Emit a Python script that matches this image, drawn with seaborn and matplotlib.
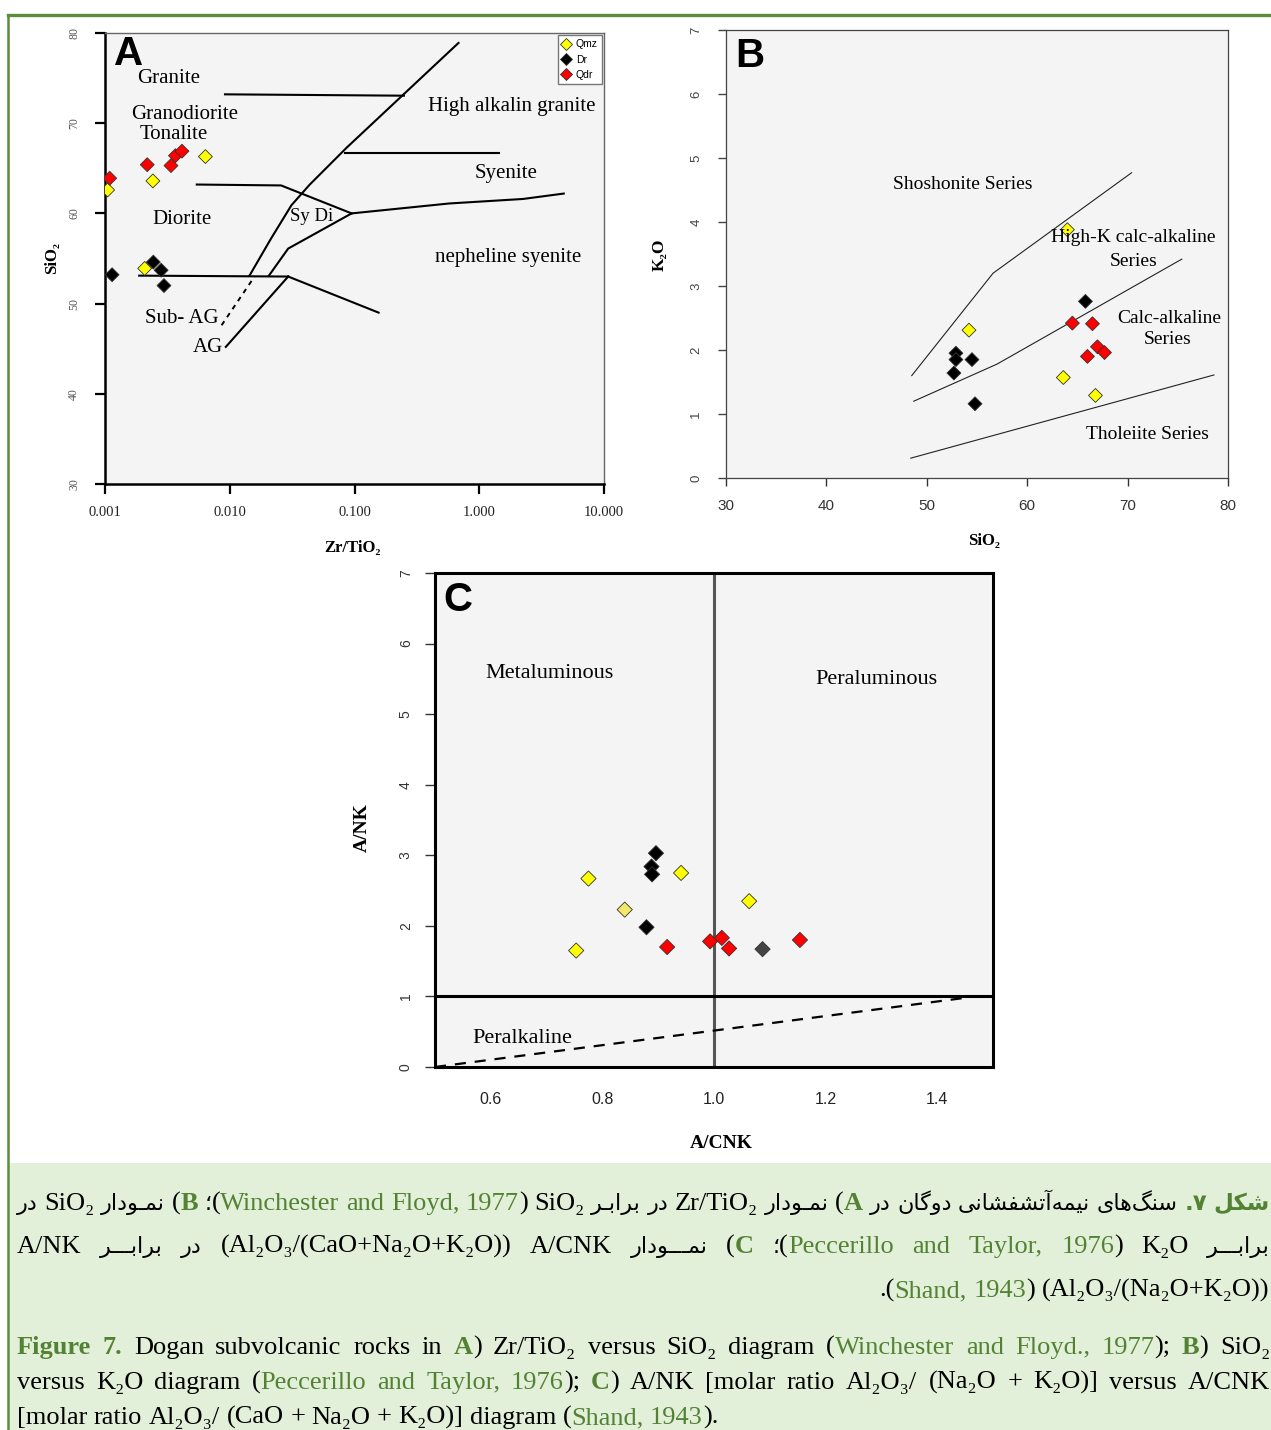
import numpy as np
import pandas as pd
import matplotlib
matplotlib.use("Agg")
import matplotlib.pyplot as plt
import seaborn as sns
from matplotlib.lines import Line2D
from matplotlib.patches import Rectangle
from matplotlib.ticker import NullLocator

# ---------------- data ----------------
groups = ["Qmz", "Dr", "Qdr"]

# Panel A: Zr/TiO2 vs SiO2
A_qmz_zr = [0.00105, 0.00208, 0.00242, 0.00638]
A_qmz_si = [62.6, 53.9, 63.6, 66.3]
A_dr_zr = [0.00114, 0.00244, 0.00282, 0.00297]
A_dr_si = [53.2, 54.6, 53.7, 52.0]
A_qdr_zr = [0.00109, 0.00218, 0.00338, 0.00367, 0.00414]
A_qdr_si = [63.9, 65.4, 65.3, 66.4, 66.9]

# Panel B: SiO2 vs K2O
B_qmz_si = [64.0, 54.2, 63.6, 66.8]
B_qmz_k = [3.88, 2.31, 1.57, 1.29]
B_dr_si = [52.9, 52.9, 54.5, 52.7, 54.8, 65.8]
B_dr_k = [1.95, 1.85, 1.85, 1.64, 1.16, 2.76]
B_qdr_si = [64.5, 66.5, 66.0, 67.0, 67.7]
B_qdr_k = [2.42, 2.41, 1.90, 2.05, 1.96]

# Panel C: A/CNK vs A/NK
C_qmz_acnk = [0.775, 0.753, 0.941, 1.063]
C_qmz_ank = [2.67, 1.65, 2.75, 2.35]
C_qmzl_acnk = [0.840]
C_qmzl_ank = [2.23]
C_dr_acnk = [0.896, 0.888, 0.889, 0.879]
C_dr_ank = [3.03, 2.84, 2.73, 1.98]
C_drg_acnk = [1.087]
C_drg_ank = [1.67]
C_qdr_acnk = [0.916, 0.993, 1.014, 1.027, 1.154]
C_qdr_ank = [1.70, 1.78, 1.83, 1.68, 1.80]

# Field boundaries
A_lines_x = [[0.00916, 0.249], [0.0144, 0.0214, 0.0312, 0.0438, 0.0867, 0.682],
             [0.0834, 1.44], [0.00544, 0.0258, 0.0948], [0.0948, 0.574, 2.24, 4.76],
             [0.0948, 0.0294, 0.0206], [0.00188, 0.0294], [0.0294, 0.156], [0.0093, 0.0294]]
A_lines_y = [[73.2, 73.05], [53.1, 57.2, 60.9, 63.2, 67.3, 78.9],
             [66.7, 66.7], [63.2, 63.1, 60.0], [60.0, 61.1, 61.6, 62.2],
             [60.0, 56.1, 53.1], [53.1, 53.0], [53.0, 49.0], [45.2, 53.0]]
A_dash_x = [0.0086, 0.0158]
A_dash_y = [47.6, 53.0]
A_labels = ["Granite", "Granodiorite", "Tonalite", "Diorite", "Sy Di", "High alkalin granite",
            "Syenite", "nepheline syenite", "Sub- AG", "AG"]
A_label_x = [0.00323, 0.00437, 0.00356, 0.00414, 0.0455, 1.81, 1.63, 1.69, 0.00414, 0.00673]
A_label_y = [75.0, 71.0, 68.8, 59.3, 59.7, 71.9, 64.4, 55.1, 48.3, 45.1]

B_lines_x = [[48.5, 56.6, 70.4], [48.7, 57.0, 75.4], [48.4, 78.6]]
B_lines_y = [[1.60, 3.20, 4.77], [1.20, 1.78, 3.42], [0.31, 1.61]]
B_labels = ["Shoshonite Series", "High-K calc-alkaline", "Series", "Calc-alkaline", "Series",
            "Tholeiite Series"]
B_label_x = [53.6, 70.6, 70.6, 74.15, 73.95, 72.0]
B_label_y = [4.59, 3.76, 3.38, 2.49, 2.16, 0.68]

C_dash_x = [0.5, 1.45]
C_dash_y = [0.0, 0.98]
C_labels = ["Metaluminous", "Peraluminous", "Peralkaline"]
C_label_x = [0.706, 1.292, 0.656]
C_label_y = [5.57, 5.49, 0.41]

A_xticks = [0.001, 0.01, 0.1, 1, 10]
A_xticklabels = ["0.001", "0.010", "0.100", "1.000", "10.000"]

# ---------------- helpers ----------------
W, H = 1271, 1430
SERIF = ["Liberation Serif", "DejaVu Serif"]
SANS = ["Liberation Sans", "DejaVu Sans"]
GREEN = "#548235"
palette = {"Qmz": "#ffff00", "Dr": "#000000", "Qdr": "#ff0000",
           "Qmz2": "#f2e86a", "Dr2": "#444444"}


def frame(xs, ys, gs):
    rows = []
    for x, y, g in zip(xs, ys, gs):
        for a, b in zip(x, y):
            rows.append((a, b, g))
    return pd.DataFrame(rows, columns=["x", "y", "group"])


fig = plt.figure(figsize=(W / 100, H / 100), dpi=100)

# caption background & green frame
fig.patches.append(Rectangle((10 / W, 0), 1, (1430 - 1163) / H, transform=fig.transFigure,
                             facecolor="#e2efd9", edgecolor="none", zorder=0))
fig.lines.append(Line2D([8 / W, 1], [1 - 15 / H, 1 - 15 / H], transform=fig.transFigure,
                        color="#5b8c3a", lw=2.4))
fig.lines.append(Line2D([8 / W, 8 / W], [1 - 15 / H, 0], transform=fig.transFigure,
                        color="#5b8c3a", lw=1.8))


def px_axes(l, t, r, b):
    return fig.add_axes([l / W, 1 - b / H, (r - l) / W, (b - t) / H])


# ---------------- Panel A ----------------
axA = px_axes(105, 33, 604, 484)
axA.set_facecolor("#f4f4f4")
for xs, ys in zip(A_lines_x, A_lines_y):
    axA.plot(xs, ys, color="black", lw=1.5, zorder=2)
axA.plot(A_dash_x, A_dash_y, color="black", lw=1.4, ls=(0, (2.5, 2.5)), zorder=2)
dfA = frame([A_qmz_zr, A_dr_zr, A_qdr_zr], [A_qmz_si, A_dr_si, A_qdr_si], groups)
sns.scatterplot(data=dfA, x="x", y="y", hue="group", hue_order=groups, palette=palette,
                marker="D", s=50, edgecolor="#333333", linewidth=0.6, ax=axA, zorder=3)
axA.set_xscale("log")
axA.set_xlim(0.001, 10)
axA.set_ylim(30, 80)
axA.set_xticks(A_xticks)
axA.set_xticklabels(A_xticklabels)
axA.xaxis.set_minor_locator(NullLocator())
axA.set_yticks([30, 40, 50, 60, 70, 80])
axA.set_xlabel("")
axA.set_ylabel("")
for s in ["left", "bottom"]:
    axA.spines[s].set_linewidth(1.8)
    axA.spines[s].set_color("black")
for s in ["top", "right"]:
    axA.spines[s].set_linewidth(1.0)
    axA.spines[s].set_color("#666666")
axA.tick_params(axis="x", direction="out", length=7, width=1.6, pad=9, labelsize=10.5,
                labelcolor="#222222")
axA.tick_params(axis="y", direction="out", length=7, width=1.6, pad=11, labelsize=8.5,
                labelcolor="#555555")
for lab in axA.get_xticklabels() + axA.get_yticklabels():
    lab.set_family(SERIF)
for lab in axA.get_yticklabels():
    lab.set_rotation(90)
    lab.set_va("center")
for t, x, y in zip(A_labels, A_label_x, A_label_y):
    axA.text(x, y, t, ha="center", va="center", family=SERIF,
             fontsize=13.5 if t == "Sy Di" else 15)
axA.text(0.018, 0.995, "A", transform=axA.transAxes, ha="left", va="top", fontsize=29,
         weight="bold", family=SANS)
h, l = axA.get_legend_handles_labels()
axA.legend(h, l, loc="upper right", bbox_to_anchor=(0.996, 0.995),
           frameon=True, fancybox=False, edgecolor="#777777", framealpha=1,
           handlelength=0.7, handletextpad=0.6, borderpad=0.4, labelspacing=0.5,
           borderaxespad=0.0, markerscale=0.85, prop={"family": SANS, "size": 7.5})

fig.text(52 / W, 1 - 258 / H, "SiO\u2082", rotation=90, ha="center", va="center",
         family=SERIF, weight="bold", fontsize=12)
fig.text(352 / W, 1 - 548 / H, "Zr/TiO\u2082", ha="center", va="center", family=SERIF,
         weight="bold", fontsize=12)

# ---------------- Panel B ----------------
axB = px_axes(726, 30, 1228, 478)
axB.set_facecolor("#f4f4f4")
for xs, ys in zip(B_lines_x, B_lines_y):
    axB.plot(xs, ys, color="#222222", lw=0.8, zorder=2)
dfB = frame([B_qmz_si, B_dr_si, B_qdr_si], [B_qmz_k, B_dr_k, B_qdr_k], groups)
sns.scatterplot(data=dfB, x="x", y="y", hue="group", hue_order=groups, palette=palette,
                marker="D", s=50, edgecolor="#333333", linewidth=0.6, ax=axB, zorder=3,
                legend=False)
axB.set_xlim(30, 80)
axB.set_ylim(0, 7)
axB.set_xticks([30, 40, 50, 60, 70, 80])
axB.set_yticks(range(0, 8))
axB.set_xlabel("")
axB.set_ylabel("")
for s in axB.spines.values():
    s.set_linewidth(0.9)
    s.set_color("#444444")
axB.tick_params(axis="x", direction="out", length=6, width=1, pad=9, labelsize=11,
                colors="#333333")
axB.tick_params(axis="y", direction="out", length=6, width=1, pad=11, labelsize=9.5,
                colors="#444444")
for lab in axB.get_xticklabels() + axB.get_yticklabels():
    lab.set_family(SANS)
for lab in axB.get_yticklabels():
    lab.set_rotation(90)
    lab.set_va("center")
for t, x, y in zip(B_labels, B_label_x, B_label_y):
    axB.text(x, y, t, ha="center", va="center", family=SERIF, fontsize=14)
axB.text(0.018, 0.985, "B", transform=axB.transAxes, ha="left", va="top", fontsize=29,
         weight="bold", family=SANS)
fig.text(660 / W, 1 - 255 / H, "K\u2082O", rotation=90, ha="center", va="center",
         family=SERIF, weight="bold", fontsize=12.5)
fig.text(984 / W, 1 - 541 / H, "SiO\u2082", ha="center", va="center", family=SERIF,
         weight="bold", fontsize=12)

# ---------------- Panel C ----------------
axC = px_axes(435, 573, 993, 1067)
axC.set_facecolor("#f4f4f4")
axC.axvline(1.0, color="#555555", lw=2.2, zorder=2)
axC.axhline(1.0, color="black", lw=2.2, zorder=2)
axC.plot(C_dash_x, C_dash_y, color="black", lw=1.6, ls=(0, (5, 4)), zorder=2)
dfC = frame([C_qmz_acnk, C_qmzl_acnk, C_dr_acnk, C_drg_acnk, C_qdr_acnk],
            [C_qmz_ank, C_qmzl_ank, C_dr_ank, C_drg_ank, C_qdr_ank],
            ["Qmz", "Qmz2", "Dr", "Dr2", "Qdr"])
sns.scatterplot(data=dfC, x="x", y="y", hue="group", palette=palette, marker="D", s=60,
                edgecolor="#333333", linewidth=0.6, ax=axC, zorder=3, legend=False)
axC.set_xlim(0.5, 1.5)
axC.set_ylim(0, 7)
axC.set_xticks([0.6, 0.8, 1.0, 1.2, 1.4])
axC.set_xticklabels(["0.6", "0.8", "1.0", "1.2", "1.4"])
axC.set_yticks(range(0, 8))
axC.set_xlabel("")
axC.set_ylabel("")
for s in axC.spines.values():
    s.set_linewidth(2.2)
    s.set_color("black")
axC.tick_params(axis="x", length=0, pad=18, labelsize=11.5, colors="#222222")
axC.tick_params(axis="y", direction="out", length=7, width=1, pad=9, labelsize=10,
                colors="#333333")
for lab in axC.get_xticklabels() + axC.get_yticklabels():
    lab.set_family(SANS)
for lab in axC.get_yticklabels():
    lab.set_rotation(90)
    lab.set_va("center")
for t, x, y in zip(C_labels, C_label_x, C_label_y):
    axC.text(x, y, t, ha="center", va="center", family=SERIF, fontsize=16)
axC.text(0.015, 0.983, "C", transform=axC.transAxes, ha="left", va="top", fontsize=29,
         weight="bold", family=SANS)
fig.text(362 / W, 1 - 828 / H, "A/NK", rotation=90, ha="center", va="center",
         family=SERIF, weight="bold", fontsize=14)
fig.text(721 / W, 1 - 1143 / H, "A/CNK", ha="center", va="center", family=SERIF,
         weight="bold", fontsize=14)

# ---------------- Persian shaping ----------------
_F = {
    "\u0627": ("\uFE8D", "\uFE8E", None, None), "\u0622": ("\uFE81", "\uFE82", None, None),
    "\u0628": ("\uFE8F", "\uFE90", "\uFE91", "\uFE92"), "\u067E": ("\uFB56", "\uFB57", "\uFB58", "\uFB59"),
    "\u062A": ("\uFE95", "\uFE96", "\uFE97", "\uFE98"), "\u062B": ("\uFE99", "\uFE9A", "\uFE9B", "\uFE9C"),
    "\u062C": ("\uFE9D", "\uFE9E", "\uFE9F", "\uFEA0"), "\u0686": ("\uFB7A", "\uFB7B", "\uFB7C", "\uFB7D"),
    "\u062D": ("\uFEA1", "\uFEA2", "\uFEA3", "\uFEA4"), "\u062E": ("\uFEA5", "\uFEA6", "\uFEA7", "\uFEA8"),
    "\u062F": ("\uFEA9", "\uFEAA", None, None), "\u0630": ("\uFEAB", "\uFEAC", None, None),
    "\u0631": ("\uFEAD", "\uFEAE", None, None), "\u0632": ("\uFEAF", "\uFEB0", None, None),
    "\u0698": ("\uFB8A", "\uFB8B", None, None),
    "\u0633": ("\uFEB1", "\uFEB2", "\uFEB3", "\uFEB4"), "\u0634": ("\uFEB5", "\uFEB6", "\uFEB7", "\uFEB8"),
    "\u0635": ("\uFEB9", "\uFEBA", "\uFEBB", "\uFEBC"), "\u0636": ("\uFEBD", "\uFEBE", "\uFEBF", "\uFEC0"),
    "\u0637": ("\uFEC1", "\uFEC2", "\uFEC3", "\uFEC4"), "\u0638": ("\uFEC5", "\uFEC6", "\uFEC7", "\uFEC8"),
    "\u0639": ("\uFEC9", "\uFECA", "\uFECB", "\uFECC"), "\u063A": ("\uFECD", "\uFECE", "\uFECF", "\uFED0"),
    "\u0641": ("\uFED1", "\uFED2", "\uFED3", "\uFED4"), "\u0642": ("\uFED5", "\uFED6", "\uFED7", "\uFED8"),
    "\u06A9": ("\uFB8E", "\uFB8F", "\uFB90", "\uFB91"), "\u06AF": ("\uFB92", "\uFB93", "\uFB94", "\uFB95"),
    "\u0644": ("\uFEDD", "\uFEDE", "\uFEDF", "\uFEE0"), "\u0645": ("\uFEE1", "\uFEE2", "\uFEE3", "\uFEE4"),
    "\u0646": ("\uFEE5", "\uFEE6", "\uFEE7", "\uFEE8"), "\u0648": ("\uFEED", "\uFEEE", None, None),
    "\u0647": ("\uFEE9", "\uFEEA", "\uFEEB", "\uFEEC"), "\u06CC": ("\uFBFC", "\uFBFD", "\uFBFE", "\uFBFF"),
    "\u0640": ("\u0640", "\u0640", "\u0640", "\u0640"),
}


def _jn(c):
    return c in _F and _F[c][2] is not None


def fa(s):
    out = []
    for i, c in enumerate(s):
        if c not in _F:
            if c != "\u200c":
                out.append(c)
            continue
        jp = i > 0 and _jn(s[i - 1])
        jn = _jn(c) and i + 1 < len(s) and s[i + 1] in _F
        f = _F[c]
        if jp and jn:
            out.append(f[3])
        elif jp:
            out.append(f[1])
        elif jn:
            out.append(f[2])
        else:
            out.append(f[0])
    return "".join(reversed(out))


# ---------------- caption ----------------
FAF = ["DejaVu Sans"]
CS = 19
ST = {
    "k": dict(family=SERIF, fontsize=CS, color="black"),
    "g": dict(family=SERIF, fontsize=CS, color=GREEN),
    "bg": dict(family=SERIF, fontsize=CS, color=GREEN, weight="bold"),
    "fk": dict(family=FAF, fontsize=16, color="black"),
    "fbg": dict(family=FAF, fontsize=16.5, color=GREEN, weight="bold"),
}
renderer = fig.canvas.get_renderer()


def measure(txt, st):
    t = fig.text(0, 0, txt, **ST[st])
    w = t.get_window_extent(renderer=renderer).width
    t.remove()
    return w


def tok(*parts):
    return list(parts)


def draw_line(tokens, y, x0, x1, mode, space=6.5):
    toks = [t if isinstance(t, list) else [t] for t in tokens]
    widths = [[measure(txt, st) for txt, st in t] for t in toks]
    tw = [sum(w) for w in widths]
    if mode == "justify":
        gap = (x1 - x0 - sum(tw)) / (len(toks) - 1)
        x = x0
    elif mode == "left":
        gap = space
        x = x0
    else:
        gap = space
        x = x1 - sum(tw) - gap * (len(toks) - 1)
    for t, ws in zip(toks, widths):
        for (txt, st), w in zip(t, ws):
            fig.text(x / W, 1 - y / H, txt, ha="left", va="baseline", **ST[st])
            x += w
        x += gap


Z = "\u200c"
SEMI = fa("\u061B")
line1 = [(fa("در"), "fk"), ("SiO\u2082", "k"), (fa("نمـودار"), "fk"),
         tok(("(", "k"), ("B", "bg")),
         tok((SEMI, "fk"), ("(", "k"), ("Winchester", "g")), ("and", "g"), ("Floyd,", "g"),
         tok(("1977", "g"), (")", "k")), ("SiO\u2082", "k"), (fa("برابـر"), "fk"),
         (fa("در"), "fk"), ("Zr/TiO\u2082", "k"), (fa("نمـودار"), "fk"),
         tok(("(", "k"), ("A", "bg")), (fa("در"), "fk"), (fa("دوگان"), "fk"),
         (fa("نیمه" + Z + "آتشفشانی"), "fk"), (fa("سنگ" + Z + "های"), "fk"),
         (".\u06F7", "fbg"), (fa("شکل"), "fbg")]
line2 = [("A/NK", "k"), (fa("برابـــر"), "fk"), (fa("در"), "fk"),
         ("(Al\u2082O\u2083/(CaO+Na\u2082O+K\u2082O))", "k"), ("A/CNK", "k"),
         (fa("نمـــودار"), "fk"), tok(("(", "k"), ("C", "bg")),
         tok((SEMI, "fk"), ("(", "k"), ("Peccerillo", "g")), ("and", "g"), ("Taylor,", "g"),
         tok(("1976", "g"), (")", "k")), ("K\u2082O", "k"), (fa("برابـــر"), "fk")]
line3 = [tok((".(", "k"), ("Shand,", "g")), tok(("1943", "g"), (")", "k")),
         ("(Al\u2082O\u2083/(Na\u2082O+K\u2082O))", "k")]
line4 = [("Figure", "bg"), ("7.", "bg"), ("Dogan", "k"), ("subvolcanic", "k"), ("rocks", "k"),
         ("in", "k"), tok(("A", "bg"), (")", "k")), ("Zr/TiO\u2082", "k"), ("versus", "k"),
         ("SiO\u2082", "k"), ("diagram", "k"), tok(("(", "k"), ("Winchester", "g")),
         ("and", "g"), ("Floyd.,", "g"), tok(("1977", "g"), (");", "k")),
         tok(("B", "bg"), (")", "k")), ("SiO\u2082", "k")]
line5 = [("versus", "k"), ("K\u2082O", "k"), ("diagram", "k"),
         tok(("(", "k"), ("Peccerillo", "g")), ("and", "g"), ("Taylor,", "g"),
         tok(("1976", "g"), (");", "k")), tok(("C", "bg"), (")", "k")), ("A/NK", "k"),
         ("[molar", "k"), ("ratio", "k"), ("Al\u2082O\u2083/", "k"), ("(Na\u2082O", "k"),
         ("+", "k"), ("K\u2082O)]", "k"), ("versus", "k"), ("A/CNK", "k")]
line6 = [("[molar", "k"), ("ratio", "k"), ("Al\u2082O\u2083/", "k"), ("(CaO", "k"), ("+", "k"),
         ("Na\u2082O", "k"), ("+", "k"), ("K\u2082O)]", "k"), ("diagram", "k"),
         tok(("(", "k"), ("Shand,", "g")), tok(("1943", "g"), (").", "k"))]

draw_line(line1, 1210, 17, 1270, "justify")
draw_line(line2, 1253, 17, 1270, "justify")
draw_line(line3, 1297, 17, 1269, "right")
draw_line(line4, 1354, 17, 1270, "justify")
draw_line(line5, 1389, 17, 1270, "justify")
draw_line(line6, 1424, 17, 1270, "left")

fig.savefig("out.png", dpi=100)
